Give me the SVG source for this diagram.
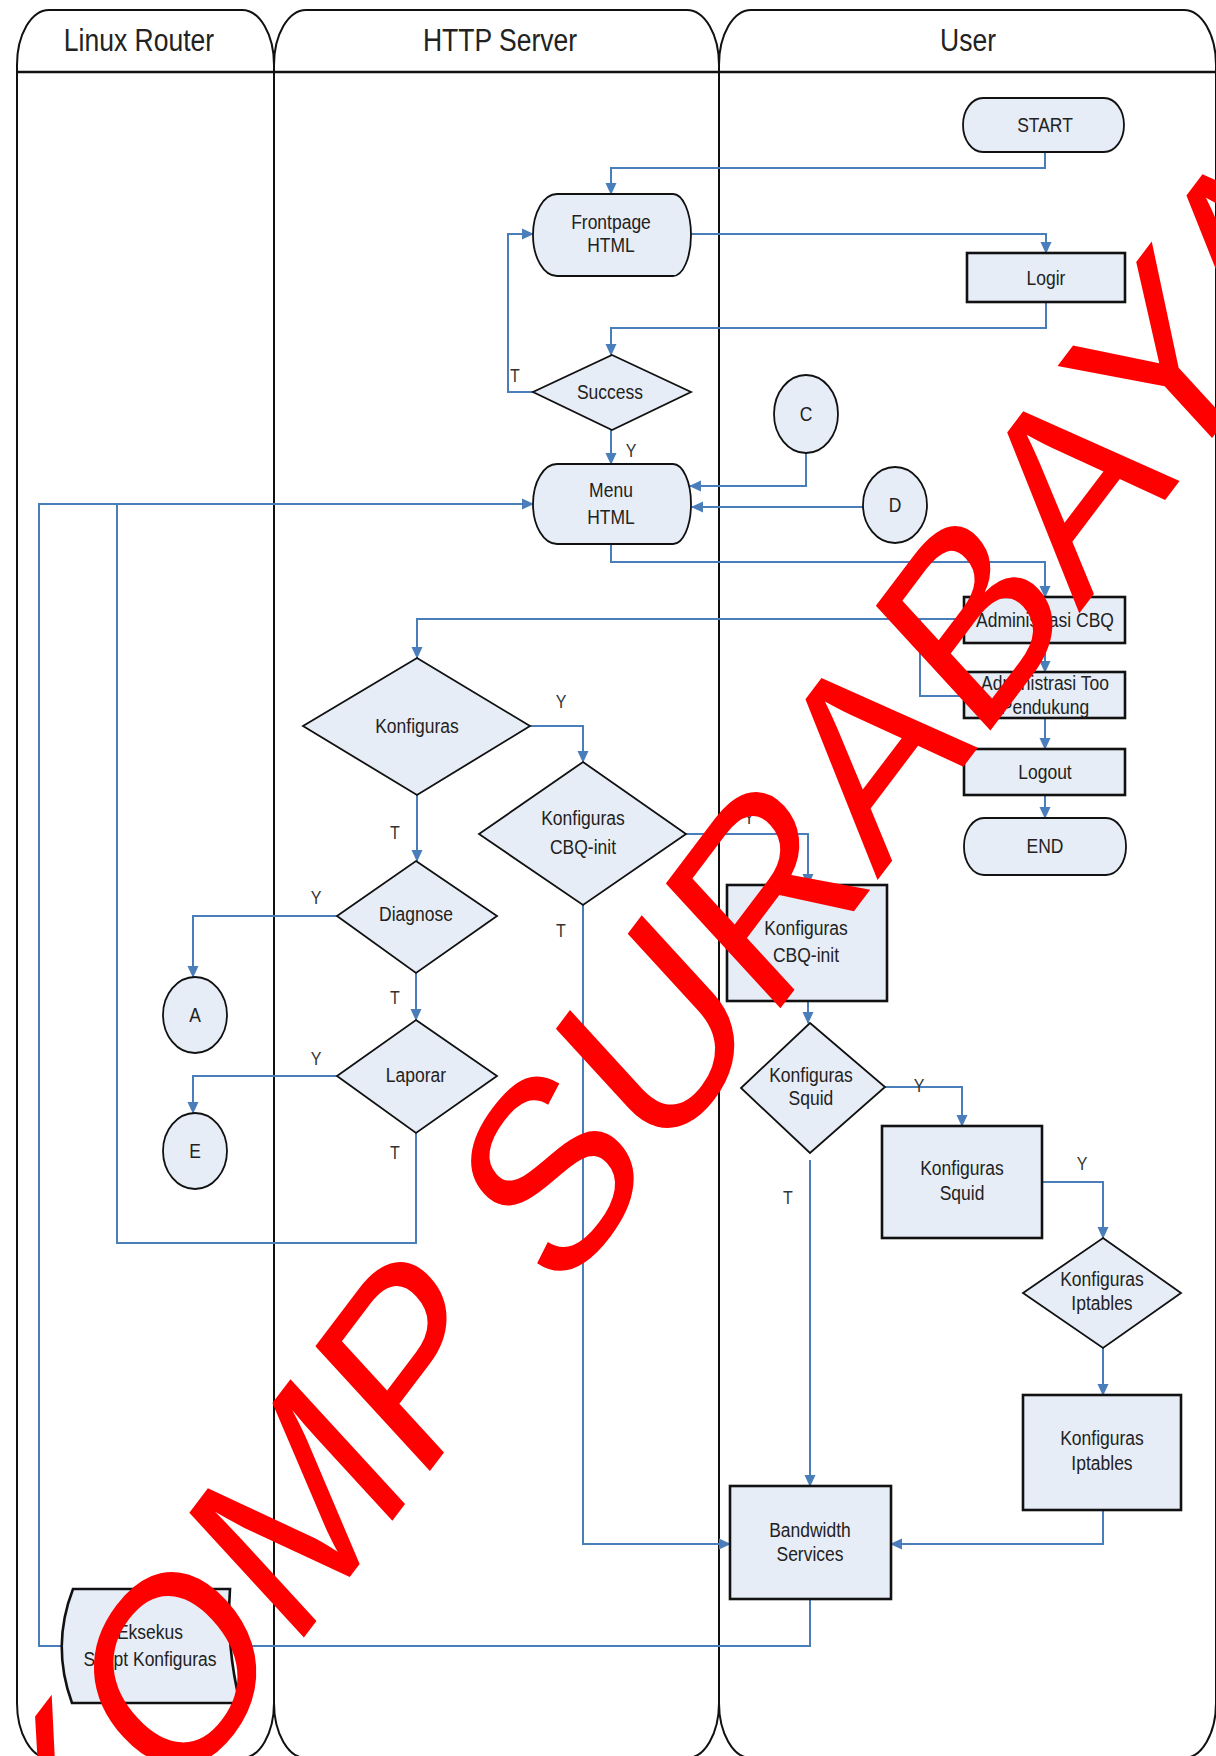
<svg xmlns="http://www.w3.org/2000/svg" width="1216" height="1756" viewBox="0 0 1216 1756">
<defs>
<marker id="ah" viewBox="0 0 12 12" refX="11" refY="6" markerWidth="12" markerHeight="12" markerUnits="userSpaceOnUse" orient="auto">
<path d="M0,0.5 L12,6 L0,11.5 Z" fill="#4a7ebb"/>
</marker>
</defs>
<style>
.lane{fill:#fff;stroke:#111;stroke-width:2}
.hd{font-family:"Liberation Sans",Arial,sans-serif;font-size:26.5px;fill:#222;text-anchor:middle;dominant-baseline:central}
.n{fill:#e7edf7;stroke:#111;stroke-width:1.8}
.b{fill:#e7edf7;stroke:#111;stroke-width:2.6}
.t{font-family:"Liberation Sans",Arial,sans-serif;font-size:17.5px;fill:#222;text-anchor:middle;dominant-baseline:central}
.s{transform-box:fill-box;transform-origin:center;transform:scaleY(1.2)}
.c{fill:none;stroke:#4a7ebb;stroke-width:2}
.lb{font-family:"Liberation Sans",Arial,sans-serif;font-size:16px;fill:#333;text-anchor:middle;dominant-baseline:central}
.wm{font-family:"Liberation Sans",Arial,sans-serif;font-size:225px;fill:#ff0000}
</style>
<g id="lanes">
<rect class="lane" x="17" y="10" width="257" height="1748" rx="32" ry="55"/>
<rect class="lane" x="274" y="10" width="445" height="1748" rx="32" ry="55"/>
<rect class="lane" x="719" y="10" width="497" height="1748" rx="32" ry="55"/>
<line x1="17" y1="72" x2="1216" y2="72" stroke="#111" stroke-width="2.5"/>
<text class="hd s" x="139" y="40">Linux Router</text>
<text class="hd s" x="500" y="40">HTTP Server</text>
<text class="hd s" x="968" y="40">User</text>
</g>
<g id="connectors">
<path class="c" d="M1045,152 V168 H611 V194" marker-end="url(#ah)"/>
<path class="c" d="M691,234 H1046 V253" marker-end="url(#ah)"/>
<path class="c" d="M1046,302 V328 H611 V355" marker-end="url(#ah)"/>
<path class="c" d="M533,392 H508 V234 H533" marker-end="url(#ah)"/>
<path class="c" d="M611,430 V464" marker-end="url(#ah)"/>
<path class="c" d="M806,453 V486 H690" marker-end="url(#ah)"/>
<path class="c" d="M863,507 H692" marker-end="url(#ah)"/>
<path class="c" d="M611,544 V562 H1045 V597" marker-end="url(#ah)"/>
<path class="c" d="M1045,643 V672" marker-end="url(#ah)"/>
<path class="c" d="M1045,718 V749" marker-end="url(#ah)"/>
<path class="c" d="M1045,795 V818" marker-end="url(#ah)"/>
<path class="c" d="M964,619 H417 V658" marker-end="url(#ah)"/>
<path class="c" d="M964,696 H920 V619"/>
<path class="c" d="M530,726 H583 V762" marker-end="url(#ah)"/>
<path class="c" d="M417,795 V861" marker-end="url(#ah)"/>
<path class="c" d="M686,834 H808 V885" marker-end="url(#ah)"/>
<path class="c" d="M583,905 V1544 H730" marker-end="url(#ah)"/>
<path class="c" d="M808,1001 V1023" marker-end="url(#ah)"/>
<path class="c" d="M885,1087 H962 V1126" marker-end="url(#ah)"/>
<path class="c" d="M810,1160 V1486" marker-end="url(#ah)"/>
<path class="c" d="M1042,1182 H1103 V1238" marker-end="url(#ah)"/>
<path class="c" d="M1103,1348 V1395" marker-end="url(#ah)"/>
<path class="c" d="M1103,1510 V1544 H891" marker-end="url(#ah)"/>
<path class="c" d="M810,1599 V1646 H232" marker-end="url(#ah)"/>
<path class="c" d="M62,1646 H39 V504 H533" marker-end="url(#ah)"/>
<path class="c" d="M337,916 H193 V977" marker-end="url(#ah)"/>
<path class="c" d="M416,973 V1020" marker-end="url(#ah)"/>
<path class="c" d="M337,1076 H193 V1113" marker-end="url(#ah)"/>
<path class="c" d="M416,1133 V1243 H117 V504"/>
<text class="lb s" x="515" y="375">T</text>
<text class="lb s" x="631" y="450">Y</text>
<text class="lb s" x="561" y="701">Y</text>
<text class="lb s" x="395" y="832">T</text>
<text class="lb s" x="749" y="817">Y</text>
<text class="lb s" x="561" y="930">T</text>
<text class="lb s" x="316" y="897">Y</text>
<text class="lb s" x="395" y="997">T</text>
<text class="lb s" x="316" y="1058">Y</text>
<text class="lb s" x="395" y="1152">T</text>
<text class="lb s" x="919" y="1085">Y</text>
<text class="lb s" x="788" y="1197">T</text>
<text class="lb s" x="1082" y="1163">Y</text>
</g>
<g id="start"><rect class="n" x="963" y="98" width="161" height="54" rx="20" ry="27"/><text class="t s" x="1045" y="125">START</text></g>
<g id="frontpage"><path class="n" d="M557,194 H673 A18,41 0 0 1 673,276 H557 A24,41 0 0 1 557,194 Z"/><text class="t s" x="611" y="222">Frontpage</text><text class="t s" x="611" y="245">HTML</text></g>
<g id="login"><rect class="b" x="967" y="253" width="158" height="49"/><text class="t s" x="1046" y="278">Logir</text></g>
<g id="success"><polygon class="n" points="612,355 691,392 612,430 533,392"/><text class="t s" x="610" y="392">Success</text></g>
<g id="menu"><path class="n" d="M557,464 H673 A18,40 0 0 1 673,544 H557 A24,40 0 0 1 557,464 Z"/><text class="t s" x="611" y="490">Menu</text><text class="t s" x="611" y="517">HTML</text></g>
<g id="c"><ellipse class="n" cx="806" cy="414" rx="32" ry="39"/><text class="t s" x="806" y="414">C</text></g>
<g id="d"><ellipse class="n" cx="895" cy="505" rx="32" ry="38"/><text class="t s" x="895" y="505">D</text></g>
<g id="admcbq"><rect class="b" x="964" y="597" width="161" height="46"/><text class="t s" x="1045" y="620">Administrasi CBQ</text></g>
<g id="admtool"><rect class="b" x="964" y="672" width="161" height="46"/><text class="t s" x="1045" y="683">Administrasi Too</text><text class="t s" x="1045" y="707">Pendukung</text></g>
<g id="logout"><rect class="b" x="964" y="749" width="161" height="46"/><text class="t s" x="1045" y="772">Logout</text></g>
<g id="end"><rect class="n" x="964" y="818" width="162" height="57" rx="20" ry="28"/><text class="t s" x="1045" y="846">END</text></g>
<g id="konfigurasi"><polygon class="n" points="417,658 530,726 417,795 303,726"/><text class="t s" x="417" y="726">Konfiguras</text></g>
<g id="cbqdec"><polygon class="n" points="583,762 686,834 583,905 479,834"/><text class="t s" x="583" y="818">Konfiguras</text><text class="t s" x="583" y="847">CBQ-init</text></g>
<g id="diagnose"><polygon class="n" points="416,861 497,916 416,973 337,916"/><text class="t s" x="416" y="914">Diagnose</text></g>
<g id="laporan"><polygon class="n" points="416,1020 497,1076 416,1133 337,1076"/><text class="t s" x="416" y="1075">Laporar</text></g>
<g id="a"><ellipse class="n" cx="195" cy="1015" rx="32" ry="38"/><text class="t s" x="195" y="1015">A</text></g>
<g id="e"><ellipse class="n" cx="195" cy="1151" rx="32" ry="38"/><text class="t s" x="195" y="1151">E</text></g>
<g id="cbqbox"><rect class="b" x="727" y="885" width="160" height="116"/><text class="t s" x="806" y="928">Konfiguras</text><text class="t s" x="806" y="955">CBQ-init</text></g>
<g id="squiddec"><polygon class="n" points="810,1023 885,1087 810,1153 741,1088"/><text class="t s" x="811" y="1075">Konfiguras</text><text class="t s" x="811" y="1098">Squid</text></g>
<g id="squidbox"><rect class="b" x="882" y="1126" width="160" height="112"/><text class="t s" x="962" y="1168">Konfiguras</text><text class="t s" x="962" y="1193">Squid</text></g>
<g id="iptdec"><polygon class="n" points="1103,1238 1181,1293 1103,1348 1023,1293"/><text class="t s" x="1102" y="1279">Konfiguras</text><text class="t s" x="1102" y="1303">Iptables</text></g>
<g id="iptbox"><rect class="b" x="1023" y="1395" width="158" height="115"/><text class="t s" x="1102" y="1438">Konfiguras</text><text class="t s" x="1102" y="1463">Iptables</text></g>
<g id="bandwidth"><rect class="b" x="730" y="1486" width="161" height="113"/><text class="t s" x="810" y="1530">Bandwidth</text><text class="t s" x="810" y="1554">Services</text></g>
<g id="eksekusi"><path class="b" d="M73,1589 H230 Q226,1646 240,1703 H72 Q51,1646 73,1589 Z"/><text class="t s" x="150" y="1632">Eksekus</text><text class="t s" x="150" y="1659">Script Konfiguras</text></g>
<text class="wm" transform="scale(1,1.2) translate(73,1619) rotate(-47.75)">KOMP SURABAYA</text>
</svg>
